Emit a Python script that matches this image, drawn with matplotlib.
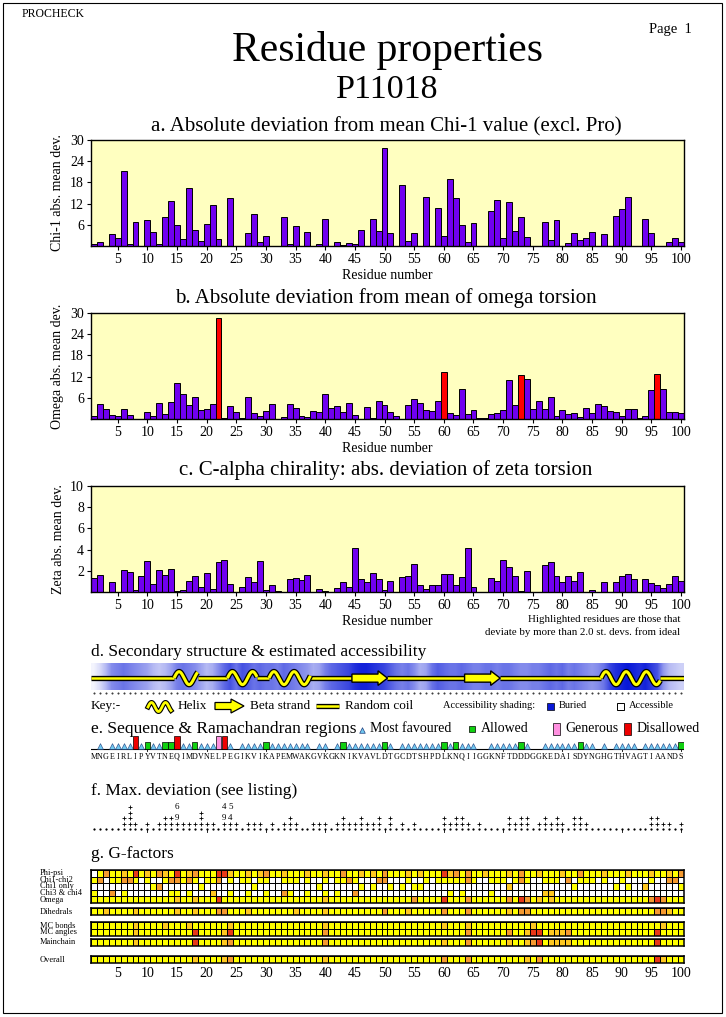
import numpy as np
import matplotlib
matplotlib.use('Agg')
import matplotlib.pyplot as plt
from matplotlib.colors import ListedColormap, LinearSegmentedColormap
from matplotlib.patches import Rectangle, Polygon

plt.rcParams['font.family'] = ['Liberation Serif', 'DejaVu Serif']

W, H = 726, 1017
residues = np.arange(1, 101)

# ---------------- data ----------------
chi1_dev = [0.5, 1.2, 0, 3.5, 2.4, 21.1, 0.6, 6.8, 0, 7.4,
            4.0, 0.6, 8.2, 12.7, 6.0, 2.0, 16.3, 4.5, 1.4, 6.2,
            11.6, 2.0, 0, 13.5, 0, 0, 3.7, 9.0, 1.2, 2.8,
            0, 0, 8.2, 0.6, 5.6, 0, 4.0, 0, 0.6, 7.6,
            0, 1.2, 0.4, 0.9, 0.6, 4.5, 0, 7.6, 4.2, 27.8,
            3.7, 0, 17.4, 1.5, 3.7, 0, 14.0, 0, 10.7, 2.8,
            19.1, 13.5, 5.9, 1.2, 6.5, 0, 0, 9.8, 13.0, 2.3,
            12.4, 4.2, 8.2, 2.6, 0, 0, 6.8, 1.7, 7.4, 0,
            0.9, 3.7, 1.7, 2.3, 4.0, 0, 3.4, 0, 8.4, 10.4,
            13.8, 0, 0, 7.6, 3.7, 0, 0, 1.2, 2.3, 1.2]

omega_dev = [0.9, 4.3, 2.9, 1.2, 0.8, 2.8, 1.1, 0, 0, 2.0,
             0.8, 4.5, 1.5, 4.8, 10.2, 7.1, 4.0, 6.2, 2.5, 2.8,
             4.3, 28.5, 0.3, 3.7, 2.0, 0.3, 6.2, 1.7, 0.8, 2.3,
             4.3, 0, 0.6, 4.3, 3.1, 0.8, 0.6, 2.3, 2.0, 7.1,
             3.1, 3.7, 2.0, 4.5, 1.1, 0, 3.4, 0.3, 5.1, 4.0,
             2.0, 0.9, 0, 3.9, 5.6, 4.5, 2.5, 2.3, 5.1, 13.3,
             1.7, 1.2, 8.5, 1.5, 2.5, 0.2, 0.2, 1.5, 1.7, 2.6,
             11.0, 4.0, 12.5, 11.3, 2.8, 5.1, 2.8, 6.2, 0.9, 2.5,
             1.5, 1.8, 0.6, 3.1, 1.7, 4.2, 3.7, 2.3, 2.0, 0.9,
             2.8, 2.8, 0.3, 0.8, 8.2, 12.7, 8.5, 2.0, 2.0, 1.8]
omega_highlight = [22, 60, 73, 96]

zeta_dev = [1.3, 1.6, 0, 0.95, 0, 2.1, 1.9, 0.2, 1.5, 2.9,
            0.8, 2.1, 1.6, 2.2, 0.1, 0.2, 1.0, 1.55, 0.5, 1.75,
            0.3, 2.85, 3.0, 0.8, 0, 0.5, 1.45, 0.95, 2.95, 0.2,
            0.7, 0.1, 0, 1.25, 1.35, 1.15, 1.6, 0, 0.3, 0.1,
            0, 0.4, 0.9, 0.5, 4.15, 1.25, 0.95, 1.8, 1.25, 0.2,
            1.05, 0, 1.45, 1.55, 2.65, 0.7, 0.3, 0.7, 0.7, 1.7,
            1.7, 0.7, 1.45, 4.15, 0.5, 0, 0, 1.35, 1.05, 3.0,
            2.35, 1.55, 0.1, 2.0, 0, 0, 2.55, 2.85, 1.55, 0.95,
            1.55, 1.05, 1.9, 0, 0.2, 0, 0.95, 0, 0.95, 1.55,
            1.7, 1.25, 0, 1.25, 0.85, 0.7, 0.4, 0.8, 1.55, 1.05]

accessibility = [0.05, 0.15, 0.3, 0.5, 0.55, 0.6, 0.55, 0.5, 0.45, 0.4,
                 0.3, 0.25, 0.3, 0.4, 0.55, 0.6, 0.55, 0.5, 0.4, 0.3,
                 0.35, 0.5, 0.65, 0.75, 0.6, 0.75, 0.7, 0.6, 0.65, 0.6,
                 0.6, 0.55, 0.65, 0.6, 0.55, 0.5, 0.45, 0.35, 0.4, 0.55,
                 0.65, 0.7, 0.75, 0.8, 0.9, 0.95, 0.95, 0.9, 0.85, 0.8,
                 0.7, 0.6, 0.55, 0.6, 0.5, 0.35, 0.4, 0.6, 0.7, 0.65,
                 0.6, 0.6, 0.65, 0.6, 0.55, 0.55, 0.6, 0.6, 0.55, 0.6,
                 0.6, 0.55, 0.5, 0.5, 0.55, 0.55, 0.6, 0.65, 0.6, 0.65,
                 0.55, 0.6, 0.55, 0.5, 0.45, 0.5, 0.6, 0.8, 0.9, 0.95,
                 1.0, 0.95, 0.9, 0.95, 0.85, 0.75, 0.45, 0.3, 0.25, 0.2]

helices = [(15, 18), (24, 28), (31, 37), (87, 96)]
strands = [(45, 50), (64, 69)]

sequence = ("MNGEIRLIPYVTNEQIMDVNELPEGIKVIKAPEMWAKGVKGKNIKVAVLD"
            "TGCDTSHPDLKNQIIGGKNFTDDDGGKEDAISDYNGHGTHVAGTIAANDS")

rama_allowed = [10, 13, 14, 18, 30, 43, 50, 60, 62, 73, 83, 100]
rama_generous = [22]
rama_disallowed = [8, 15, 23]

maxdev_plus = [0, 0, 0, 0, 0, 2, 4, 1, 0, 1,
               0, 1, 2, 2, 1, 1, 1, 1, 3, 1,
               1, 0, 1, 1, 1, 0, 1, 1, 1, 0,
               1, 0, 1, 2, 1, 0, 0, 1, 1, 1,
               0, 1, 2, 1, 1, 2, 1, 1, 2, 0,
               2, 0, 1, 0, 1, 0, 0, 0, 0, 2,
               1, 2, 2, 1, 0, 1, 0, 0, 0, 0,
               2, 1, 2, 2, 0, 1, 2, 1, 2, 1,
               0, 2, 2, 1, 0, 0, 0, 0, 0, 0,
               0, 0, 0, 0, 2, 2, 1, 1, 0, 1]
maxdev_labels = [(15, 2, '9'), (15, 4, '6'), (23, 2, '9'), (23, 4, '4'),
                 (24, 2, '4'), (24, 4, '5')]

gf_phipsi = ("0131121412" "1321412311" "1442112123" "1121112112" "1131121213"
             "1112121114" "2313112111" "2131121112" "1131112111" "2111211213")
gf_chi1chi2 = ("1301133101" "0013313101" "1301011011" "0011101001" "0113100033"
               "0001001011" "1113100111" "0131001110" "3011101001" "0000100330")
gf_chi1only = ("0000000000" "1300000010" "0000000100" "0000000010" "0000010100"
               "1010110000" "0000000000" "2000000000" "0100000010" "1002000001")
gf_chi34 = ("1003010000" "0001101000" "2001001001" "0031001001" "0100300000"
            "0000000000" "1010000100" "0000002200" "0000000000" "0000000000")
gf_omega = ("1111111111" "1111211211" "1411111111" "1111111112" "1111111111"
            "1111311114" "1113111111" "3143121211" "1111111111" "1111343111")
gf_dihedrals = ("1121111211" "1111211211" "1331112111" "1111211112" "1111111113"
                "1112111113" "1113111111" "2133111111" "1111111111" "1111133211")
gf_mcbonds = ("1111111211" "1121112111" "1112111111" "1111111112" "1111111111"
              "1111111112" "1112111111" "1111211111" "1111111111" "1111112111")
gf_mcangles = ("1111111211" "1111111411" "1124111111" "1111111113" "1111111111"
               "1111111111" "1113111111" "3112441222" "3111111111" "1111141111")
gf_mainchain = ("1111111211" "1111111411" "1123111111" "1111111113" "1111111111"
                "1111111112" "1113111111" "2112341222" "2111111111" "1111141111")
gf_overall = ("1111111111" "1111111211" "1123111111" "1111111112" "1111111111"
              "1111111113" "1113111111" "1112131111" "1111111111" "1111142111")

# ---------------- figure helpers ----------------
fig = plt.figure(figsize=(W / 100, H / 100), dpi=100)
fig.patch.set_facecolor('white')


def pax(x0, y0, x1, y1, **kw):
    return fig.add_axes([x0 / W, 1 - y1 / H, (x1 - x0) / W, (y1 - y0) / H], **kw)


def ftext(x, y, s, **kw):
    kw.setdefault('va', 'center')
    return fig.text(x / W, 1 - y / H, s, **kw)


AX_L, AX_R = 91, 684
PURPLE = '#7000F0'
PALE = '#FFFFC0'

# frame
fig.add_artist(Rectangle((3 / W, 4 / H), 719 / W, 1010 / H, transform=fig.transFigure,
                         fill=False, lw=0.8, ec='black'))

ftext(22, 14, 'PROCHECK', fontsize=8.5, ha='left')
ftext(692, 30, 'Page  1', fontsize=10.5, ha='right')
ftext(387, 50, 'Residue properties', fontsize=30, ha='center')
ftext(387, 90, 'P11018', fontsize=24.5, ha='center')


def bar_panel(top, bottom, vals, ymax, yticks, ylabel, title, title_y, hl=()):
    ax = pax(AX_L, top, AX_R, bottom)
    ax.set_facecolor(PALE)
    cols = ['#FF0000' if r in hl else PURPLE for r in residues]
    ax.bar(residues, vals, width=1.0, color=cols, edgecolor='black', linewidth=0.7)
    ax.set_xlim(0.5, 100.5)
    ax.set_ylim(0, ymax)
    ax.set_xticks(np.arange(5, 101, 5))
    ax.set_yticks(yticks)
    ax.tick_params(direction='out', length=3, width=0.8, labelsize=10, pad=2)
    for s in ax.spines.values():
        s.set_linewidth(1.0)
    ax.set_xlabel('Residue number', fontsize=10, labelpad=2)
    ax.set_ylabel(ylabel, fontsize=10, labelpad=4)
    ftext(386, title_y, title, fontsize=15, ha='center')
    return ax


bar_panel(140, 246, chi1_dev, 30, [6, 12, 18, 24, 30], 'Chi-1 abs. mean dev.',
          'a. Absolute deviation from mean Chi-1 value (excl. Pro)', 127)
bar_panel(313, 419, omega_dev, 30, [6, 12, 18, 24, 30], 'Omega abs. mean dev.',
          'b. Absolute deviation from mean of omega torsion', 298, hl=omega_highlight)
bar_panel(486, 592, zeta_dev, 10, [2, 4, 6, 8, 10], 'Zeta abs. mean dev.',
          'c. C-alpha chirality: abs. deviation of zeta torsion', 470)
ftext(680, 620, 'Highlighted residues are those that', fontsize=7.8, ha='right')
ftext(680, 632, 'deviate by more than 2.0 st. devs. from ideal', fontsize=7.8, ha='right')

# ---------------- d. secondary structure ----------------
ftext(91, 652, 'd. Secondary structure & estimated accessibility', fontsize=12.5, ha='left')
acc_cmap = LinearSegmentedColormap.from_list('acc', ['#FFFFFF', '#0818D8'])
band = pax(AX_L, 663, AX_R, 690)
band.imshow(np.array(accessibility)[None, :], cmap=acc_cmap, vmin=0, vmax=1, aspect='auto',
            extent=(0.5, 100.5, 0, 1), interpolation='bilinear')
band.set_xlim(0.5, 100.5)
band.set_ylim(0, 1)
band.axis('off')
yc = 0.44
elems = sorted([(s - 0.5, e + 0.5) for s, e in helices + strands])
edges = [0.5]
for a, b in elems:
    edges += [a, b]
edges.append(100.5)
for i in range(0, len(edges), 2):
    band.plot([edges[i], edges[i + 1]], [yc, yc], color='black', lw=3.8, solid_capstyle='butt')
    band.plot([edges[i], edges[i + 1]], [yc, yc], color='#FFFF00', lw=1.8, solid_capstyle='butt')
for s, e in helices:
    x = np.linspace(s - 0.5, e + 0.5, 300)
    y = yc + 0.24 * np.sin(2 * np.pi * (x - (s - 0.5)) / 3.4)
    band.plot(x, y, color='black', lw=4.0, solid_capstyle='butt')
    band.plot(x, y, color='#FFFF00', lw=2.2, solid_capstyle='butt')
for s, e in strands:
    x0, x1 = s - 0.5, e + 0.5
    xh = x1 - 1.6
    pts = [(x0, yc - 0.15), (xh, yc - 0.15), (xh, yc - 0.27), (x1, yc),
           (xh, yc + 0.27), (xh, yc + 0.15), (x0, yc + 0.15)]
    band.add_patch(Polygon(pts, closed=True, fc='#FFFF00', ec='black', lw=1.0, zorder=5))
band.plot(residues, [-0.12] * 100, ls='none', marker='s', ms=0.5, color='#404040', clip_on=False)

# key row (pixel coordinates)
ov = fig.add_axes([0, 0, 1, 1])
ov.set_xlim(0, W)
ov.set_ylim(H, 0)
ov.axis('off')
ky = 706
ov.text(91, ky, 'Key:-', fontsize=9.5, va='center')
hx = np.linspace(148, 171, 100)
hy = ky + 1 - 4.5 * np.sin(2 * np.pi * (hx - 148) / 14)
ov.plot(hx, hy, color='black', lw=3.6)
ov.plot(hx, hy, color='#FFFF00', lw=2.0)
ov.text(178, ky, 'Helix', fontsize=9.5, va='center')
ov.add_patch(Polygon([(215, ky - 3.5), (231, ky - 3.5), (231, ky - 7), (244, ky),
                      (231, ky + 7), (231, ky + 3.5), (215, ky + 3.5)],
                     closed=True, fc='#FFFF00', ec='black', lw=0.9))
ov.text(250, ky, 'Beta strand', fontsize=9.5, va='center')
ov.plot([316, 339], [ky, ky], color='black', lw=3.8, solid_capstyle='butt')
ov.plot([316, 339], [ky, ky], color='#FFFF00', lw=1.8, solid_capstyle='butt')
ov.text(345, ky, 'Random coil', fontsize=9.5, va='center')
ov.text(443, ky, 'Accessibility shading:', fontsize=7.5, va='center')
ov.add_patch(Rectangle((547, ky - 3.5), 7, 7, fc='#0818D8', ec='black', lw=0.5))
ov.text(559, ky, 'Buried', fontsize=7.5, va='center')
ov.add_patch(Rectangle((617, ky - 3.5), 7, 7, fc='white', ec='black', lw=0.7))
ov.text(629, ky, 'Accessible', fontsize=7.5, va='center')

# ---------------- e. sequence & Ramachandran ----------------
ey = 729
ftext(91, ey, 'e. Sequence & Ramachandran regions', fontsize=12.5, ha='left')
ov.scatter([362], [ey + 1], marker='^', s=16, c='#70C8F0', edgecolors='#204080', linewidths=0.5)
ov.text(370, ey, 'Most favoured', fontsize=10, va='center')
ov.add_patch(Rectangle((469, ey - 3), 6, 6, fc='#10D010', ec='black', lw=0.5))
ov.text(481, ey, 'Allowed', fontsize=10, va='center')
ov.add_patch(Rectangle((553, ey - 6), 7, 12, fc='#FF90E0', ec='black', lw=0.5))
ov.text(565, ey, 'Generous', fontsize=10, va='center')
ov.add_patch(Rectangle((624, ey - 6), 7, 12, fc='#EE0000', ec='black', lw=0.5))
ov.text(637, ey, 'Disallowed', fontsize=10, va='center')

rax = pax(AX_L, 733, AX_R, 752)
rax.set_xlim(0.5, 100.5)
rax.set_ylim(-3, 16)
rax.axis('off')
rax.plot([0.5, 100.5], [0, 0], color='black', lw=0.8)
special = set(rama_allowed + rama_generous + rama_disallowed)
tri = [r for r in residues if r > 1 and sequence[r - 1] != 'G' and r not in special]
rax.scatter(tri, [2.6] * len(tri), marker='^', s=17, c='#70C8F0', edgecolors='#204080',
            linewidths=0.4, zorder=3)
rax.bar(rama_allowed, [7] * len(rama_allowed), bottom=0, width=0.9, color='#10D010',
        edgecolor='black', linewidth=0.5, zorder=3)
rax.bar(rama_generous, [13] * len(rama_generous), bottom=0, width=0.9, color='#FF90E0',
        edgecolor='black', linewidth=0.5, zorder=3)
rax.bar(rama_disallowed, [13] * len(rama_disallowed), bottom=0, width=0.9, color='#EE0000',
        edgecolor='black', linewidth=0.5, zorder=3)
for t in range(10, 101, 10):
    rax.plot([t, t], [0, -2], color='black', lw=0.6, clip_on=False)
for r, ch in zip(residues, sequence):
    rax.text(r, -8, ch, fontsize=5.8, ha='center', va='center', clip_on=False)

# ---------------- f. max deviation ----------------
ftext(91, 791, 'f. Max. deviation (see listing)', fontsize=12.5, ha='left')
fax = pax(AX_L, 795, AX_R, 834)
fax.set_xlim(0.5, 100.5)
fax.set_ylim(-5, 34)
fax.axis('off')
fax.plot(residues, [0] * 100, ls='none', marker='s', ms=0.6, color='black')
for t in range(10, 101, 10):
    fax.plot([t, t], [0, -3], color='black', lw=0.6)
px, py = [], []
for r, n in zip(residues, maxdev_plus):
    for k in range(n):
        px.append(r)
        py.append(5.5 * (k + 1))
fax.plot(px, py, ls='none', marker='+', ms=3.2, mew=0.6, color='black')
for r, row, s in maxdev_labels:
    fax.text(r, 5.5 * row, s, fontsize=6.5, ha='center', va='center')

# ---------------- g. G-factors ----------------
ftext(91, 854, 'g. G-factors', fontsize=12.5, ha='left')
gcmap = ListedColormap(['#FFFFFF', '#FFFF00', '#FFC820', '#F59A30', '#E83818'])


def gblock(top, bottom, rows, labels, ticks=False):
    ax = pax(AX_L, top, AX_R, bottom)
    data = np.array([[int(c) for c in row] for row in rows])
    ax.pcolormesh(np.arange(0.5, 101.5), np.arange(len(rows) + 1), data, cmap=gcmap,
                  vmin=-0.5, vmax=4.5, edgecolors='black', linewidth=0.4)
    ax.set_xlim(0.5, 100.5)
    ax.set_ylim(len(rows), 0)
    ax.set_yticks([])
    for s in ax.spines.values():
        s.set_linewidth(1.1)
    if ticks:
        ax.set_xticks(np.arange(5, 101, 5))
        ax.tick_params(axis='x', length=0, labelsize=10, pad=3)
    else:
        ax.set_xticks([])
    rh = (bottom - top) / len(rows)
    for i, lab in enumerate(labels):
        ftext(40, top + rh * (i + 0.5), lab, fontsize=6, ha='left')
    return ax


gblock(870, 903, [gf_phipsi, gf_chi1chi2, gf_chi1only, gf_chi34, gf_omega],
       ['Phi-psi', 'Chi1-chi2', 'Chi1 only', 'Chi3 & chi4', 'Omega'])
gblock(908, 915, [gf_dihedrals], ['Dihedrals'])
gblock(922, 936, [gf_mcbonds, gf_mcangles], ['MC bonds', 'MC angles'])
gblock(939, 946, [gf_mainchain], ['Mainchain'])
gblock(956, 963, [gf_overall], ['Overall'], ticks=True)

fig.savefig('out.png', dpi=100)
